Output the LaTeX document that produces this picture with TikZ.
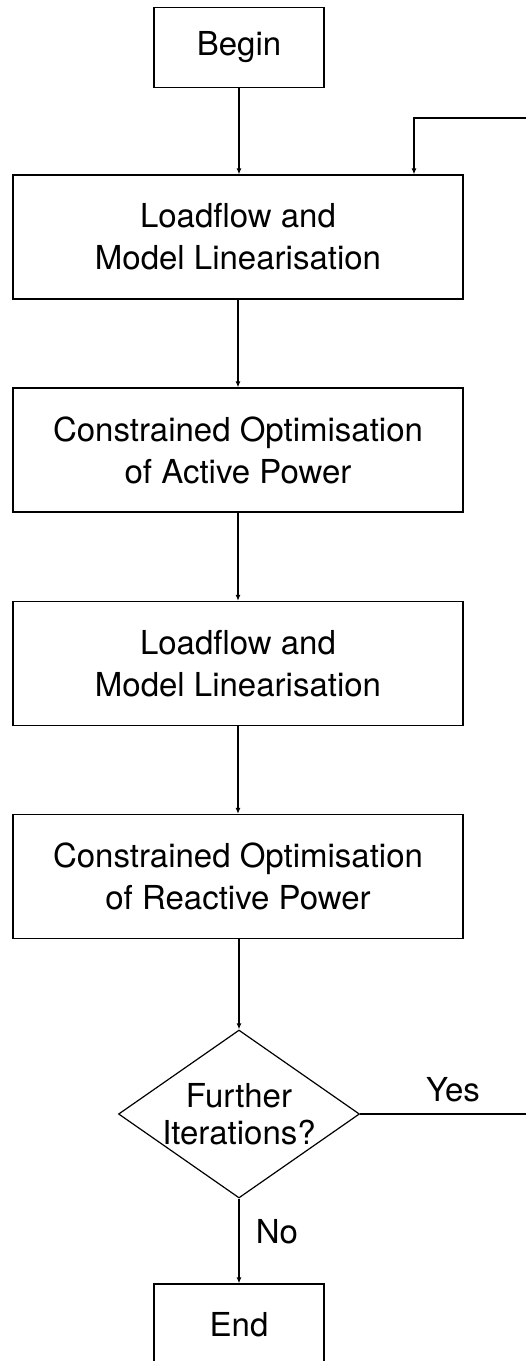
\documentclass[tikz,border=0pt]{standalone}
\usepackage{fontspec}
\setmainfont{TeX Gyre Heros}
\usetikzlibrary{arrows.meta,shapes.geometric}

\begin{document}
\begin{tikzpicture}[x=1pt,y=-1pt,
  line width=1.2pt,
  every node/.style={font=\fontsize{33}{42}\selectfont},
  stepbox/.style={draw,line width=1.2pt,minimum width=450pt,minimum height=124pt,align=center,inner sep=0pt},
  termbox/.style={draw,line width=1.2pt,minimum width=170pt,minimum height=80pt,inner sep=0pt},
  decision/.style={draw,diamond,line width=1.2pt,minimum width=241pt,minimum height=168pt,inner sep=0pt},
  flow/.style={-{Latex[length=6pt,width=5pt]}}]
\useasboundingbox (0,0) rectangle (526,1361);
\node[termbox] (begin) at (239,47.5) {Begin};
\node[stepbox] (load1) at (238,237) {Loadflow and\\Model Linearisation};
\node[stepbox] (optp) at (238,450) {Constrained Optimisation\\of Active Power};
\node[stepbox] (load2) at (238,663.5) {Loadflow and\\Model Linearisation};
\node[stepbox] (optq) at (238,876.5) {Constrained Optimisation\\of Reactive Power};
\node[decision,label={[align=center,font=\fontsize{33}{37}\selectfont]center:Further\\Iterations?}] (iter) at (239,1114) {};
\node[termbox,minimum height=82pt] (end) at (239,1325) {End};
\node (yes) at (453,1090) {Yes};
\node (no) at (277,1232) {No};
\coordinate (loopR) at (528,1114);
\coordinate (loopT) at (528,118);
\coordinate (loopL) at (414,118);
\draw[flow] (begin.south) -- (begin.south |- load1.north);
\draw[flow] (load1) -- (optp);
\draw[flow] (optp) -- (load2);
\draw[flow] (load2) -- (optq);
\draw[flow] (optq.south -| iter.north) -- (iter.north);
\draw[flow] (iter.south) -- (end.north);
\draw[flow] (iter.east) -- (loopR) -- (loopT) -- (loopL) -- (loopL |- load1.north);
\end{tikzpicture}
\end{document}
